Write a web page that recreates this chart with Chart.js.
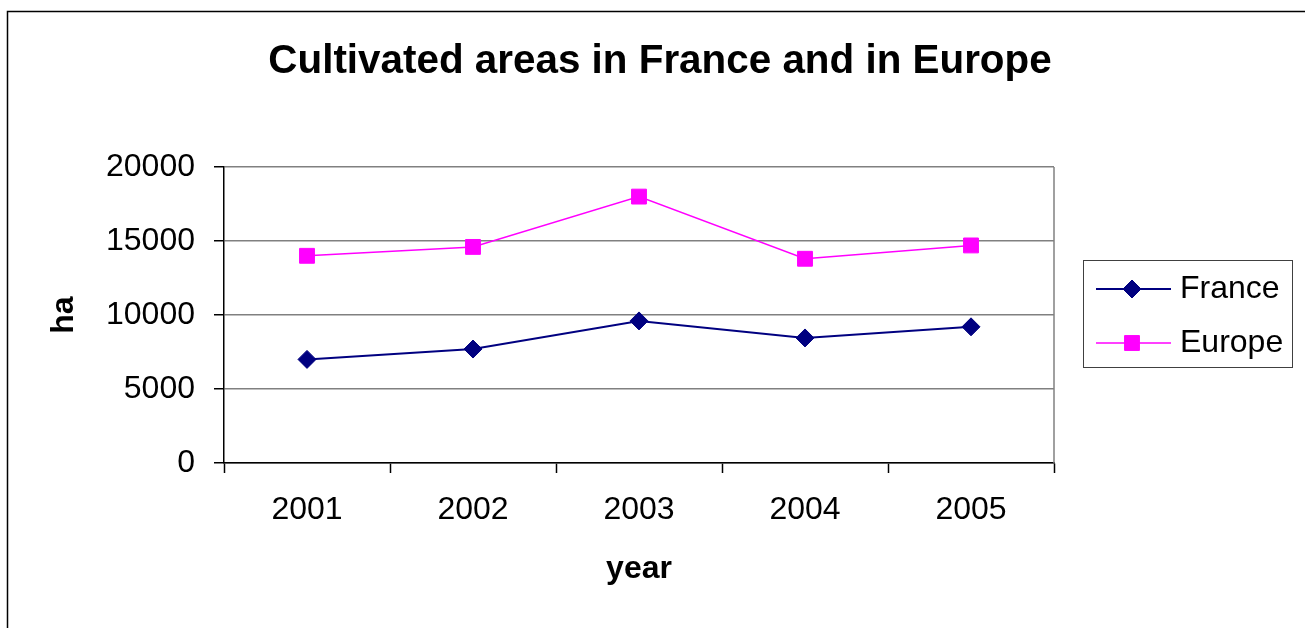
<!DOCTYPE html>
<html>
<head>
<meta charset="utf-8">
<script src="https://cdn.jsdelivr.net/npm/chart.js@4/dist/chart.umd.min.js"></script>
<style>
  html, body { margin: 0; padding: 0; background: #fff; }
  canvas { display: block; }
</style>
</head>
<body>
<canvas id="c" width="1305" height="628"></canvas>
<script>
// ---- data ----
const years = ["2001", "2002", "2003", "2004", "2005"];
const france = [7000, 7700, 9600, 8450, 9200];
const europe = [14000, 14600, 18000, 13800, 14700];
const yTicks = [0, 5000, 10000, 15000, 20000];
const chartTitle = "Cultivated areas in France and in Europe";
const xTitle = "year";
const yTitle = "ha";

const FONT = '"Liberation Sans", Arial, sans-serif';

const decorPlugin = {
  id: 'decor',
  afterDraw(chart) {
    const ctx = chart.ctx;
    const ca = chart.chartArea;
    ctx.save();
    // plot area right border
    ctx.strokeStyle = '#808080';
    ctx.lineWidth = 1.5;
    ctx.beginPath();
    ctx.moveTo(ca.right, ca.top);
    ctx.lineTo(ca.right, ca.bottom);
    ctx.stroke();
    // outer frame
    ctx.strokeStyle = '#000';
    ctx.lineWidth = 1.5;
    ctx.strokeRect(7.5, 11.5, 1320, 640);
    // title
    ctx.fillStyle = '#000';
    ctx.font = 'bold 40.4px ' + FONT;
    ctx.textAlign = 'center';
    ctx.textBaseline = 'alphabetic';
    ctx.fillText(chartTitle, 660, 73);
    // legend
    const lx = 1083.5, ly = 260.5, lw = 209, lh = 107;
    ctx.strokeStyle = '#404040';
    ctx.lineWidth = 1;
    ctx.strokeRect(lx, ly, lw, lh);
    const rows = [289, 343];
    chart.data.datasets.forEach((ds, i) => {
      const y = rows[i];
      ctx.strokeStyle = ds.borderColor;
      ctx.lineWidth = ds.borderWidth;
      ctx.beginPath();
      ctx.moveTo(1096, y);
      ctx.lineTo(1171, y);
      ctx.stroke();
      ctx.fillStyle = ds.pointBackgroundColor;
      ctx.strokeStyle = ds.pointBorderColor;
      ctx.lineWidth = 1;
      Chart.helpers.drawPoint(ctx, { pointStyle: ds.pointStyle, radius: ds.pointRadius, borderWidth: 1 }, 1132, y);
      ctx.fillStyle = '#000';
      ctx.font = '32px ' + FONT;
      ctx.textAlign = 'left';
      ctx.textBaseline = 'middle';
      ctx.fillText(ds.label, 1180, y);
    });
    ctx.restore();
  }
};

new Chart(document.getElementById('c'), {
  type: 'line',
  data: {
    labels: years,
    datasets: [
      {
        label: 'France',
        data: france,
        borderColor: '#000080',
        backgroundColor: '#000080',
        pointBackgroundColor: '#000080',
        pointBorderColor: '#000080',
        borderWidth: 2,
        pointStyle: 'rectRot',
        pointRadius: 9,
        pointBorderWidth: 1,
        tension: 0
      },
      {
        label: 'Europe',
        data: europe,
        borderColor: '#FF00FF',
        backgroundColor: '#FF00FF',
        pointBackgroundColor: '#FF00FF',
        pointBorderColor: '#FF00FF',
        borderWidth: 1.5,
        pointStyle: 'rect',
        pointRadius: 10.5,
        pointBorderWidth: 1,
        tension: 0
      }
    ]
  },
  options: {
    responsive: false,
    animation: false,
    layout: { padding: { top: 167, right: 251, bottom: 0, left: 0 } },
    plugins: {
      legend: { display: false },
      title: { display: false },
      tooltip: { enabled: false }
    },
    scales: {
      x: {
        offset: true,
        grid: {
          offset: true,
          drawOnChartArea: false,
          drawTicks: true,
          tickLength: 10,
          tickColor: '#000',
          tickWidth: 1.5
        },
        border: { color: '#000', width: 1.5 },
        ticks: {
          color: '#000',
          font: { family: FONT, size: 32 },
          padding: 18,
          maxRotation: 0
        },
        title: {
          display: true,
          text: xTitle,
          color: '#000',
          font: { family: FONT, size: 32, weight: 'bold' },
          padding: { top: 0, bottom: 40 }
        },
        afterFit(scale) { scale.height = 165; }
      },
      y: {
        min: 0,
        max: 20000,
        afterBuildTicks(scale) { scale.ticks = yTicks.map(v => ({ value: v })); },
        grid: {
          color: '#808080',
          lineWidth: 1.5,
          drawTicks: true,
          tickLength: 10,
          tickColor: '#000',
          tickWidth: 1.5
        },
        border: { color: '#000', width: 1.5 },
        ticks: {
          color: '#000',
          font: { family: FONT, size: 32 },
          padding: 19,
          callback: (v) => String(v)
        },
        title: {
          display: true,
          text: yTitle,
          color: '#000',
          font: { family: FONT, size: 32, weight: 'bold' },
          padding: { top: 45, bottom: 0 }
        },
        afterFit(scale) { scale.width = 224; }
      }
    }
  },
  plugins: [decorPlugin]
});
</script>
</body>
</html>
